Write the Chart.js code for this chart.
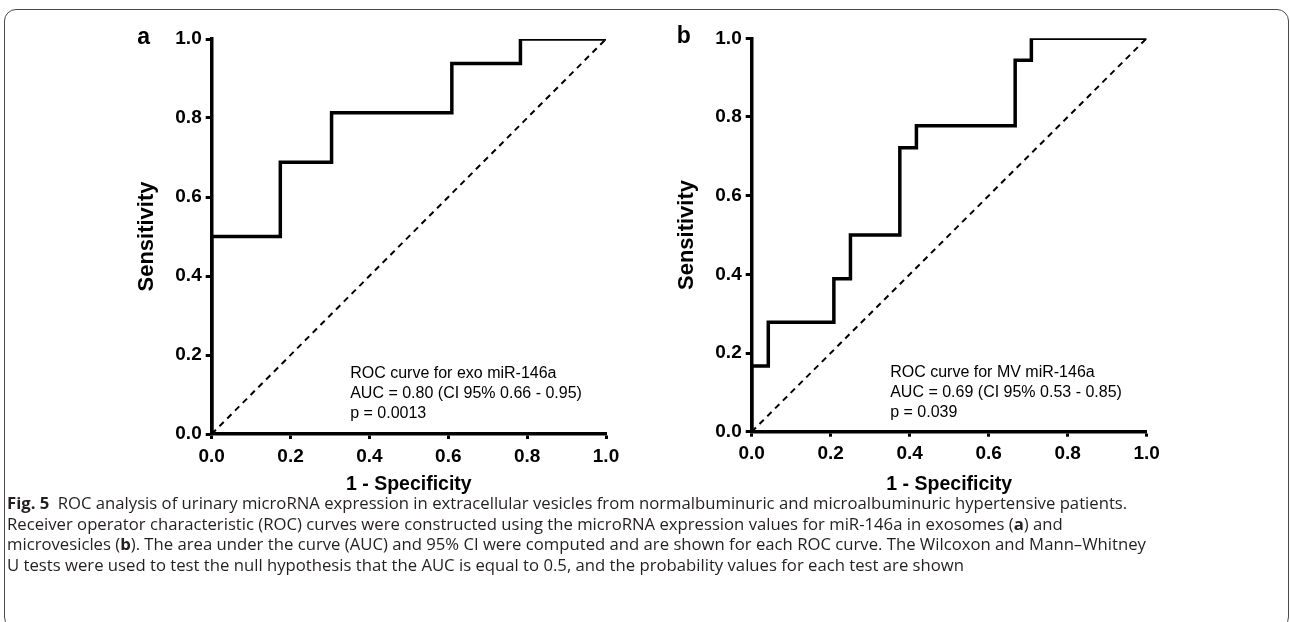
<!DOCTYPE html>
<html>
<head>
<meta charset="utf-8">
<script src="https://cdn.jsdelivr.net/npm/chart.js@4"></script>
<style>
  html, body { margin: 0; padding: 0; background: #fff; overflow: hidden; }
  body { width: 1290px; height: 622px; position: relative; }
  .frame { position: absolute; left: 4px; top: 9px; width: 1285px; height: 620px; border: 1px solid #4a4a4a; border-radius: 12px; box-sizing: border-box; }
  canvas { position: absolute; top: 0; }
  #chartA { left: 120px; }
  #chartB { left: 660px; }
  .caption { position: absolute; left: 7px; top: 493px; font-family: "Open Sans", "Liberation Sans", sans-serif; font-size: 16.7px; line-height: 20.7px; color: #231f20; white-space: nowrap; }
  .caption b { font-weight: bold; }
</style>
</head>
<body>
<div class="frame"></div>
<canvas id="chartA" width="520" height="500"></canvas>
<canvas id="chartB" width="520" height="500"></canvas>
<div class="caption">
  <div><b>Fig. 5</b>&ensp;ROC analysis of urinary microRNA expression in extracellular vesicles from normalbuminuric and microalbuminuric hypertensive patients.</div>
  <div>Receiver operator characteristic (ROC) curves were constructed using the microRNA expression values for miR-146a in exosomes (<b>a</b>) and</div>
  <div>microvesicles (<b>b</b>). The area under the curve (AUC) and 95% CI were computed and are shown for each ROC curve. The Wilcoxon and Mann–Whitney</div>
  <div>U tests were used to test the null hypothesis that the AUC is equal to 0.5, and the probability values for each test are shown</div>
</div>
<script>
// axis ticks shared by both panels
const tickValues = [0, 0.2, 0.4, 0.6, 0.8, 1.0];

// panel a: exosome miR-146a ROC (1 - specificity, sensitivity)
const fprA = [0, 0, 0.174, 0.174, 0.304, 0.304, 0.609, 0.609, 0.783, 0.783, 1];
const tprA = [0, 0.5, 0.5, 0.688, 0.688, 0.813, 0.813, 0.938, 0.938, 1, 1];
const notesA = ["ROC curve for exo miR-146a", "AUC = 0.80 (CI 95% 0.66 - 0.95)", "p = 0.0013"];

// panel b: microvesicle miR-146a ROC
const fprB = [0, 0, 0.042, 0.042, 0.208, 0.208, 0.25, 0.25, 0.375, 0.375, 0.417, 0.417, 0.667, 0.667, 0.708, 0.708, 1];
const tprB = [0, 0.167, 0.167, 0.278, 0.278, 0.389, 0.389, 0.5, 0.5, 0.722, 0.722, 0.778, 0.778, 0.944, 0.944, 1, 1];
const notesB = ["ROC curve for MV miR-146a", "AUC = 0.69 (CI 95% 0.53 - 0.85)", "p = 0.039"];

// reference line of no discrimination
const chanceLine = [0, 1];

const FONT = "'Liberation Sans', Arial, sans-serif";
const tickFont = { family: FONT, size: 19, weight: "bold" };
const xTitleFont = { family: FONT, size: 19.5, weight: "bold", lineHeight: 1.2 };
const yTitleFont = { family: FONT, size: 22, weight: "bold", lineHeight: 1.2 };

// panel letter + AUC notes
const panelText = {
    id: "panelText",
    afterDraw(chart, args, opts) {
        const ctx = chart.ctx;
        const area = chart.chartArea;
        ctx.save();
        ctx.fillStyle = "#000";
        ctx.textBaseline = "alphabetic";
        ctx.textAlign = "center";
        ctx.font = "bold 23px " + FONT;
        ctx.fillText(opts.letter, area.left - 68, area.top + 5);
        ctx.font = "16px " + FONT;
        ctx.textAlign = "left";
        ctx.textBaseline = "middle";
        opts.notes.forEach(function (t, i) {
            ctx.fillText(t, area.left + 138.5, area.top + 334.5 + i * 20);
        });
        ctx.restore();
    }
};

function makeChart(id, fpr, tpr, letter, notes, top, bottom, right, canvasLeft) {
    new Chart(document.getElementById(id), {
        type: "scatter",
        data: {
            datasets: [{
                data: fpr.map((x, i) => ({ x: x, y: tpr[i] })),
                showLine: true,
                borderColor: "#000",
                borderWidth: 3.5,
                pointRadius: 0,
                tension: 0,
                clip: 0
            }, {
                data: chanceLine.map(v => ({ x: v, y: v })),
                showLine: true,
                borderColor: "#000",
                borderWidth: 2,
                borderDash: [6, 5],
                pointRadius: 0,
                clip: 0
            }]
        },
        options: {
            responsive: false,
            animation: false,
            devicePixelRatio: 1,
            layout: { padding: { top: top, right: 520 - (right - canvasLeft), bottom: 0, left: 0 } },
            plugins: {
                legend: { display: false },
                tooltip: { enabled: false },
                panelText: { letter: letter, notes: notes }
            },
            scales: {
                x: {
                    type: "linear",
                    min: 0,
                    max: 1,
                    afterBuildTicks: s => { s.ticks = tickValues.map(v => ({ value: v })); },
                    afterFit: s => { s.height = 500 - bottom; },
                    ticks: { callback: v => v.toFixed(1), font: tickFont, color: "#000", padding: 6, maxRotation: 0, autoSkip: false },
                    grid: { drawOnChartArea: false, tickLength: 5, tickWidth: 3, tickColor: "#000" },
                    border: { display: true, color: "#000", width: 3.5 },
                    title: { display: true, text: "1 - Specificity", font: xTitleFont, color: "#000", padding: { top: 0, bottom: 4 } }
                },
                y: {
                    type: "linear",
                    min: 0,
                    max: 1,
                    afterBuildTicks: s => { s.ticks = tickValues.map(v => ({ value: v })); },
                    afterFit: s => { s.width = 91.7; },
                    ticks: { callback: v => v.toFixed(1), font: tickFont, color: "#000", padding: 4, autoSkip: false },
                    grid: { drawOnChartArea: false, tickLength: 6, tickWidth: 3, tickColor: "#000" },
                    border: { display: true, color: "#000", width: 3.5 },
                    title: { display: true, text: "Sensitivity", font: yTitleFont, color: "#000", padding: { top: 14, bottom: 0 } }
                }
            }
        },
        plugins: [panelText]
    });
}

makeChart("chartA", fprA, tprA, "a", notesA, 39, 434, 606, 120);
makeChart("chartB", fprB, tprB, "b", notesB, 38.3, 431.7, 1146.7, 660);
</script>
</body>
</html>
